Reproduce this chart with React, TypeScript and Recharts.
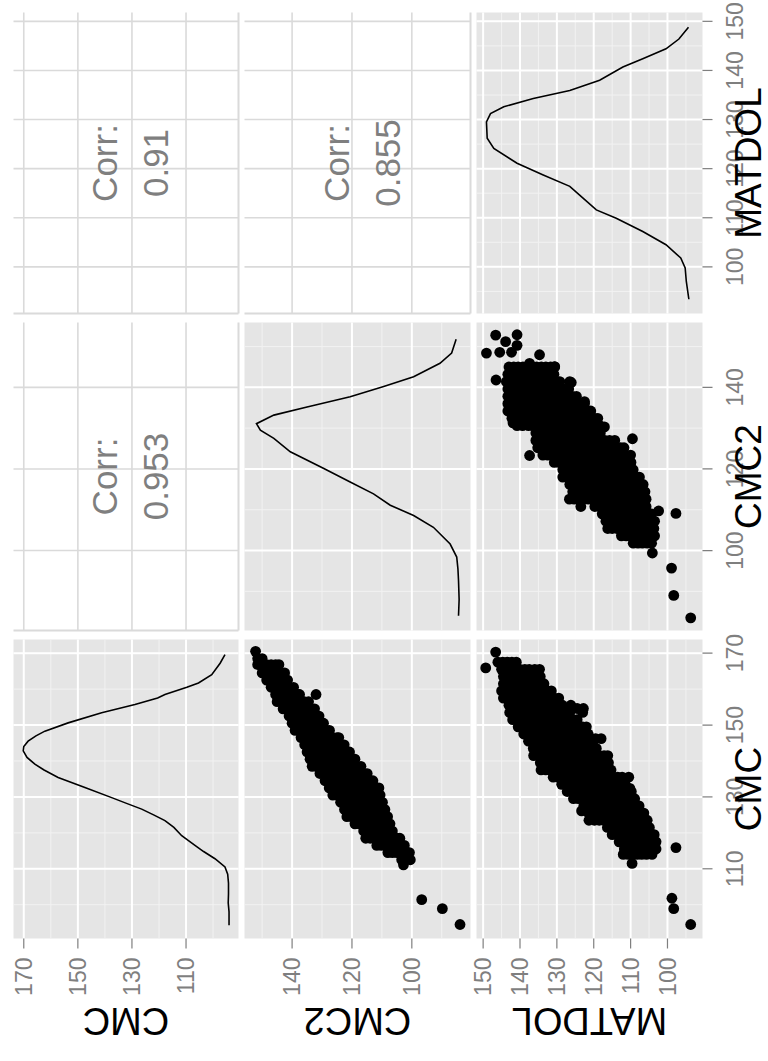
import React from 'react';
import {
  ScatterChart, Scatter, LineChart, Line, XAxis, YAxis, CartesianGrid, ReferenceLine,
} from 'recharts';

const FONT = '"Liberation Sans", Arial, Helvetica, sans-serif';

// variables of the pairs matrix
const varNames = ['CMC', 'CMC2', 'MATDOL'];
const varDomains: [number, number][] = [[90.6, 173.8], [80.4, 155.9], [90.5, 151.8]];
const majorTicks = [[110, 130, 150, 170], [100, 120, 140], [100, 110, 120, 130, 140, 150]];
const minorTicks = [[100, 120, 140, 160], [90, 110, 130, 150], [95, 105, 115, 125, 135, 145]];

// upper triangle
const corrCells = [
  { row: 0, col: 1, value: '0.953' },
  { row: 0, col: 2, value: '0.91' },
  { row: 1, col: 2, value: '0.855' },
];

// diagonal densities, rescaled to the variable range: [value, scaled density]
const cmcDensity = [
  [94.3, 94.1], [98, 94.1], [100.5, 94.4], [103, 94.3], [106, 94.3], [108.5, 94.6], [110.5, 95.6],
  [112.8, 99.3], [114.8, 103.5], [116.5, 106.7], [119.2, 111.6], [121.5, 114.5], [123.4, 117.8],
  [125, 122], [126.6, 126.4], [128.2, 132], [129.8, 137.5], [132.6, 147.4], [135.4, 157.3],
  [137.5, 162.5], [139.1, 165.9], [141, 168.8], [142.8, 170.2], [144, 170], [145.5, 168.4],
  [147, 165.5], [148.3, 162.2], [150.6, 153.6], [153.4, 141.2], [155.7, 128.9], [157.5, 120.5],
  [158.5, 117.8], [160.5, 109.7], [161.7, 105.4], [164, 100.5], [167.2, 97.4], [169.6, 95.6],
];
const cmc2Density = [
  [84, 84.4], [88, 84.2], [92.6, 84.4], [95.5, 84.6], [98.4, 85], [101.6, 87.2], [105.7, 92.8],
  [108.6, 99.4], [111.1, 107.2], [113.9, 112.8], [116.8, 120.6], [120.1, 129.4], [124.2, 140.6],
  [127.5, 146.1], [129.5, 150.6], [131.1, 151.9], [133.2, 146.1], [135.2, 135], [137.7, 120.6],
  [140.2, 109.4], [142.6, 99.4], [145.9, 90.6], [148.4, 86.7], [151.8, 85.2],
];
const matdolDensity = [
  [93.4, 94.2], [97.1, 94.9], [99.8, 95.2], [101.8, 96.4], [104.5, 100.4], [107.2, 106.7],
  [109.9, 113.9], [111.6, 119.3], [114, 122.9], [116.4, 126.5], [118.7, 133.7], [121.1, 140.8],
  [124.1, 147.1], [126.2, 148.9], [129.5, 149.1], [131.2, 148], [132.6, 144.4], [134.3, 136.4],
  [135.9, 126.5], [138, 118.4], [140.7, 112.1], [142.4, 106.7], [144.4, 100.4], [146.4, 96.9],
  [148.8, 94.3],
];

// lower triangle clouds, one row per x value: [x, y1, y2, ...]
const cmcVsCmc2 = [
  [170.5, 152.2], [168.5, 151.5, 150], [166.8, 151.5, 150, 148.5, 147, 145.5, 144.4],
  [164.5, 150, 148.5, 147, 145.5, 144, 142.5], [162.5, 148.5, 147, 145.5, 144, 142.5, 141.5],
  [160.5, 147, 145.5, 144, 142.5, 141, 139.5], [158.5, 145.5, 144, 142.5, 141, 139.5, 138, 137.5, 132],
  [156.5, 145, 143.5, 142, 140.5, 139, 137.5, 136, 134.5],
  [154.5, 143, 141.5, 140, 138.5, 137, 135.5, 134, 132.5],
  [152.5, 141, 139.5, 138, 136.5, 135, 133.5, 132, 131],
  [150.5, 140, 138.5, 137, 135.5, 134, 132.5, 131, 129.5],
  [148.5, 139, 137.5, 136, 134.5, 133, 131.5, 130, 128.5, 127.5],
  [146.5, 137, 135.5, 134, 132.5, 131, 129.5, 128, 126.5, 125, 124.4],
  [144.5, 135.8, 134.3, 132.8, 131.3, 129.8, 128.3, 126.8, 125.3, 123.8, 122.6],
  [142.5, 135, 133.5, 132, 130.5, 129, 127.5, 126, 124.5, 123, 121.5, 120.8],
  [140.5, 134, 132.5, 131, 129.5, 128, 126.5, 125, 123.5, 122, 120.5, 119],
  [138.5, 133.3, 131.8, 130.3, 128.8, 127.3, 125.8, 124.3, 122.8, 121.3, 119.8, 118.3, 117],
  [136.5, 130.7, 129.2, 127.7, 126.2, 124.7, 123.2, 121.7, 120.2, 118.7, 117.2, 115.7, 114.9],
  [134.5, 129, 127.5, 126, 124.5, 123, 121.5, 120, 118.5, 117, 115.5, 114, 113],
  [132.5, 127.6, 126.1, 124.6, 123.1, 121.6, 120.1, 118.6, 117.1, 115.6, 114.1, 112.6, 111],
  [130.5, 126.4, 124.9, 123.4, 121.9, 120.4, 118.9, 117.4, 115.9, 114.4, 112.9, 111.4, 110.6],
  [128.5, 123.8, 122.3, 120.8, 119.3, 117.8, 116.3, 114.8, 113.3, 111.8, 110.3, 109.8],
  [126.5, 122.5, 121, 119.5, 118, 116.5, 115, 113.5, 112, 110.5, 109],
  [124.5, 121.7, 120.2, 118.7, 117.2, 115.7, 114.2, 112.7, 111.2, 109.7, 108.1],
  [122.5, 119, 117.5, 116, 114.5, 113, 111.5, 110, 108.5, 107.3],
  [120.5, 116.1, 114.6, 113.1, 111.6, 110.1, 108.6, 107.1, 106.5],
  [118.5, 115.4, 113.9, 112.4, 110.9, 109.4, 107.9, 106.4, 104.9, 104],
  [116.5, 111.7, 110.2, 108.7, 107.2, 105.7, 104.2, 102.5],
  [114.5, 108, 106.5, 105, 103.5, 102, 100.8], [112.5, 103.4, 102, 100.5],
  [111.1, 102.8], [101.4, 96.7], [98.9, 89.8], [94.5, 83.9],
];
const cmcVsMatdol = [
  [170.3, 146.6], [167.5, 146, 144.7, 143.5, 142.2, 141], [165.9, 149.3],
  [165.5, 145, 143.7, 142.5, 141.2, 140, 138.7, 137.5, 136, 134.7],
  [163.5, 144.5, 143.2, 142, 140.7, 139.5, 138.2, 137, 135.7, 134.5],
  [161.5, 144.5, 143.2, 142, 140.7, 139.5, 138.2, 137, 135.7, 134.5, 133.5],
  [159.5, 145, 143.7, 142.5, 141.2, 140, 138.7, 137.5, 136.2, 135, 133.7, 132.5, 131.5],
  [157.5, 144.5, 143.2, 142, 140.7, 139.5, 138.2, 137, 135.7, 134.5, 133.2, 132, 130.7, 129.5],
  [155.5, 143, 141.7, 140.5, 139.2, 138, 136.7, 135.5, 134.2, 133, 131.7, 130.5, 129.5, 128.5, 126.2],
  [154.6, 124.5, 122.8],
  [153.5, 142.8, 141.5, 140.3, 139, 137.8, 136.5, 135.3, 134, 132.8, 131.5, 130.3, 129, 127.8, 126.5, 123],
  [151.5, 142, 140.7, 139.5, 138.2, 137, 135.7, 134.5, 133.2, 132, 130.7, 129.5, 128.2, 127, 125.7, 124.5],
  [149.5, 140.5, 139.2, 138, 136.7, 135.5, 134.2, 133, 131.7, 130.5, 129.2, 128, 126.7, 125.5, 124.2, 123, 122],
  [147.5, 139, 137.7, 136.5, 135.2, 134, 132.7, 131.5, 130.2, 129, 127.7, 126.5, 125.2, 124, 122.7, 121.5],
  [146.2, 119.5, 118],
  [145.5, 137.7, 136.5, 135.2, 134, 132.7, 131.5, 130.2, 129, 127.7, 126.5, 125.2, 124, 122.7, 121.5, 120.2],
  [143.5, 136.4, 135.1, 133.9, 132.6, 131.4, 130.1, 128.9, 127.6, 126.4, 125.1, 123.9, 122.6, 121.4, 120.1, 119.3],
  [141.5, 136.3, 134.8, 133.5, 132.2, 131, 129.7, 128.5, 127.2, 126, 124.7, 123.5, 122.2, 121, 119.7, 118.5, 117.2, 116.2],
  [139.5, 134.5, 133.2, 132, 130.7, 129.5, 128.2, 127, 125.7, 124.5, 123.2, 122, 120.7, 119.5, 118.2, 117, 116],
  [137.5, 134.3, 133, 131.8, 130.5, 129.3, 128, 126.8, 125.5, 124.3, 123, 121.8, 120.5, 119.3, 118, 116.8, 115.3],
  [135.5, 131, 129.7, 128.5, 127.2, 126, 124.7, 123.5, 122.2, 121, 119.7, 118.5, 117.2, 116, 114.7, 113.5, 112.3, 110.5],
  [133.5, 128.7, 127.5, 126.2, 125, 123.7, 122.5, 121.2, 120, 118.7, 117.5, 116.2, 115, 113.7, 112.5, 111.5],
  [132.4, 110.2],
  [131.5, 127.2, 126, 124.7, 123.5, 122.2, 121, 119.7, 118.5, 117.2, 116, 114.7, 113.5, 112.2, 111, 109.8],
  [129.5, 125.5, 124.2, 123, 121.7, 120.5, 119.2, 118, 116.7, 115.5, 114.2, 113, 111.7, 110.5, 109.2, 108.9],
  [127.5, 122.7, 121.5, 120.2, 119, 117.7, 116.5, 115.2, 114, 112.7, 111.5, 110.2, 109, 107.7],
  [126.1, 123.3],
  [125.5, 121.4, 120.2, 118.9, 117.7, 116.4, 115.2, 113.9, 112.7, 111.4, 110.2, 108.9, 107.7, 106.4],
  [123.5, 121.3, 119.8, 118.5, 117.3, 116, 114.8, 113.5, 112.3, 111, 109.8, 108.5, 107.3, 105.5],
  [121.5, 116.3, 115, 113.8, 112.5, 111.3, 110, 108.8, 107.5, 106.3, 104.9],
  [119.5, 115, 113.7, 112.5, 111.2, 110, 108.7, 107.5, 106.2, 105, 103.6],
  [117.5, 113.1, 111.8, 110.6, 109.3, 108.1, 106.8, 105.6, 104.3, 103.1],
  [115.9, 97.7], [115.5, 111.7, 110.4, 109.2, 107.9, 106.7, 105.4, 104.2, 103.1],
  [114, 112, 110.7, 109.5, 108.2, 107, 105.7, 104.2], [111.5, 109.6],
  [101.8, 98.8], [98.9, 98.3], [94.5, 93.7],
];
const cmc2VsMatdol = [
  [152.8, 146.6], [152.9, 140.8], [151.2, 143.9], [150.3, 140.8], [148.4, 149.1],
  [148.6, 145.5, 142.3], [148, 134.7], [145.9, 137.4], [145.1, 130.6], [141.8, 146.5], [141.2, 126.1],
  [145, 143, 141.7, 140.5, 139.2, 138, 136.7, 135.5, 134.2, 133, 131.7, 130.6],
  [143.2, 143.3, 142, 140.8, 139.5, 138.3, 137, 135.8, 134.5, 133.3, 132, 130.8],
  [141.4, 143.7, 142.4, 141.2, 139.9, 138.7, 137.4, 136.2, 134.9, 133.7, 132.4, 131.2, 129.9, 129.2, 126.5],
  [139.6, 143.3, 142, 140.8, 139.5, 138.3, 137, 135.8, 134.5, 133.3, 132, 130.8, 129.5, 128.3, 127, 126.8],
  [137.8, 143.3, 142, 140.8, 139.5, 138.3, 137, 135.8, 134.5, 133.3, 132, 130.8, 129.5, 128.3, 127, 125.8, 124.7],
  [136.5, 122.5],
  [136, 143.3, 142, 140.8, 139.5, 138.3, 137, 135.8, 134.5, 133.3, 132, 130.8, 129.5, 128.3, 127, 125.8, 124.5, 123.3, 122.5],
  [134.2, 143.3, 142, 140.8, 139.5, 138.3, 137, 135.8, 134.5, 133.3, 132, 130.8, 129.5, 128.3, 127, 125.8, 124.5, 123.3, 122, 120.8],
  [132.4, 142.2, 141, 139.7, 138.5, 137.2, 136, 134.7, 133.5, 132.2, 131, 129.7, 128.5, 127.2, 126, 124.7, 123.5, 122.2, 121, 119.7, 118.9],
  [131.3, 141.9], [130.3, 117.1],
  [130.6, 140.8, 139.3, 137.7, 136.5, 135.2, 134, 132.7, 131.5, 130.2, 129, 127.7, 126.5, 125.2, 124, 122.7, 121.5, 120.2, 119, 118.3],
  [128.8, 135.7, 134.5, 133.2, 132, 130.7, 129.5, 128.2, 127, 125.7, 124.5, 123.2, 122, 120.7, 119.5, 118.2],
  [127.4, 109.5],
  [127, 135.7, 134.5, 133.2, 132, 130.7, 129.5, 128.2, 127, 125.7, 124.5, 123.2, 122, 120.7, 119.5, 118.2, 117, 115.7, 114.3],
  [125.2, 135.2, 134, 132.7, 131.5, 130.2, 129, 127.7, 126.5, 125.2, 124, 122.7, 121.5, 120.2, 119, 117.7, 116.5, 115.2, 114, 112.7, 111.8],
  [123.3, 137.4],
  [123.4, 133.8, 132.5, 131.3, 130, 128.8, 127.5, 126.3, 125, 123.8, 122.5, 121.3, 120, 118.8, 117.5, 116.3, 115, 113.8, 112.5, 111.3, 110],
  [121.6, 130.7, 129.5, 128.2, 127, 125.7, 124.5, 123.2, 122, 120.7, 119.5, 118.2, 117, 115.7, 114.5, 113.2, 112, 110.7, 109.9],
  [119.8, 128.4, 127.2, 125.9, 124.7, 123.4, 122.2, 120.9, 119.7, 118.4, 117.2, 115.9, 114.7, 113.4, 112.2, 110.9, 109.3],
  [118, 128.4, 127.2, 125.9, 124.7, 123.4, 122.2, 120.9, 119.7, 118.4, 117.2, 115.9, 114.7, 113.4, 112.2, 110.9, 109.7, 108.4, 107.6],
  [116.2, 126.5, 125.2, 124, 122.7, 121.5, 120.2, 119, 117.7, 116.5, 115.2, 114, 112.7, 111.5, 110.2, 109, 107.7, 106.6],
  [114.4, 125.7, 124.5, 123.2, 122, 120.7, 119.5, 118.2, 117, 115.7, 114.5, 113.2, 112, 110.7, 109.5, 108.2, 107, 106.1],
  [112.6, 126.6, 125.3, 124, 122.8, 121.5, 120.3, 119, 117.8, 116.5, 115.3, 114, 112.8, 111.5, 110.3, 109, 107.8, 106.5, 105.8],
  [110.8, 123.5, 119.7, 118.5, 117.2, 116, 114.7, 113.5, 112.2, 111, 109.7, 108.5, 107.2, 105.8],
  [109.7, 102.4], [109.1, 97.7],
  [109, 117.7, 116.5, 115.2, 114, 112.7, 111.5, 110.2, 109, 107.7, 106.5, 105.2, 104.3],
  [107.2, 116.7, 115.5, 114.2, 113, 111.7, 110.5, 109.2, 108, 106.7, 105.5, 104.2, 103.5],
  [105.4, 116.2, 115, 113.7, 112.5, 111.2, 110, 108.7, 107.5, 106.2, 105, 103.7],
  [103.6, 112.5, 111.2, 110, 108.7, 107.5, 106.2, 105, 103.5],
  [101.8, 109.3, 108, 106.8, 105.5, 104.3],
  [99.4, 104.1], [95.7, 98.9], [89, 98.3], [83.5, 93.7],
];

const toPoints = (cols: number[][]) => cols.flatMap(([x, ...ys]) => ys.map((y) => ({ x, y })));
const toLine = (pairs: number[][]) => pairs.map(([x, y]) => ({ x, y }));

const densities = [toLine(cmcDensity), toLine(cmc2Density), toLine(matdolDensity)];
const clouds: Record<string, { x: number; y: number }[]> = {
  '1-0': toPoints(cmcVsCmc2),
  '2-0': toPoints(cmcVsMatdol),
  '2-1': toPoints(cmc2VsMatdol),
};

// layout of the unrotated matrix (1061 x 768), turned a quarter left afterwards
const COL_X: [number, number][] = [[123, 422], [431, 739], [748, 1049]];
const ROW_Y: [number, number][] = [[13, 238], [244, 470], [476, 702]];
const Y_AXIS_W = 100;
const X_AXIS_H = 50;
const PAD = 30; // room so edge tick labels are not cut
const GREY = '#7f7f7f';

const Dot = (props: any) => <circle cx={props.cx} cy={props.cy} r={5.4} fill="#000" />;

const PanelChart = ({ row, col }: { row: number; col: number }) => {
  const showY = col === 0;
  const showX = row === 2;
  const width = COL_X[col][1] - COL_X[col][0] + (showY ? Y_AXIS_W : 0) + 2 * PAD;
  const height = ROW_Y[row][1] - ROW_Y[row][0] + (showX ? X_AXIS_H : 0) + 2 * PAD;
  const kind = row === col ? 'density' : row > col ? 'scatter' : 'corr';

  const axes = [
    <XAxis key="x" type="number" dataKey="x" domain={varDomains[col]} ticks={majorTicks[col]}
      allowDataOverflow hide={!showX} height={X_AXIS_H} interval={0} axisLine={false}
      tickSize={10} tickMargin={14} tickLine={{ stroke: GREY, strokeWidth: 1.2 }}
      tick={{ fill: GREY, fontSize: 23, fontFamily: FONT }} />,
    <YAxis key="y" type="number" dataKey="y" domain={varDomains[row]} ticks={majorTicks[row]}
      allowDataOverflow hide={!showY} width={Y_AXIS_W} interval={0} axisLine={false}
      tickSize={10} tickMargin={9} tickLine={{ stroke: GREY, strokeWidth: 1.2 }}
      tick={{ fill: GREY, fontSize: 23, fontFamily: FONT }} />,
  ];
  const greyGrid = [
    <CartesianGrid key="minor" fill="#e5e5e5" stroke="#f2f2f2" strokeWidth={1}
      verticalValues={minorTicks[col]} horizontalValues={minorTicks[row]} />,
    <CartesianGrid key="major" stroke="#ffffff" strokeWidth={2}
      verticalValues={majorTicks[col]} horizontalValues={majorTicks[row]} />,
  ];
  const margin = { top: PAD, right: PAD, bottom: PAD, left: PAD };
  const style = {
    position: 'absolute' as const,
    left: COL_X[col][0] - (showY ? Y_AXIS_W : 0) - PAD,
    top: ROW_Y[row][0] - PAD,
  };

  if (kind === 'density') {
    return (
      <div style={style}>
        <LineChart width={width} height={height} margin={margin} data={densities[col]}>
          {greyGrid}
          {axes}
          <Line type="linear" dataKey="y" stroke="#000" strokeWidth={1.6} dot={false}
            isAnimationActive={false} />
        </LineChart>
      </div>
    );
  }
  if (kind === 'scatter') {
    return (
      <div style={style}>
        <ScatterChart width={width} height={height} margin={margin}>
          {greyGrid}
          {axes}
          <Scatter data={clouds[`${row}-${col}`]} shape={Dot} isAnimationActive={false} />
        </ScatterChart>
      </div>
    );
  }
  return (
    <div style={style}>
      <ScatterChart width={width} height={height} margin={margin}>
        <CartesianGrid fill="#ffffff" stroke="#dadada" strokeWidth={1.6}
          verticalValues={majorTicks[col]} horizontalValues={majorTicks[row]} />
        {axes}
        <ReferenceLine x={varDomains[col][0]} stroke="#dadada" strokeWidth={2} />
        <ReferenceLine y={varDomains[row][0]} stroke="#dadada" strokeWidth={2} />
        <Scatter data={[]} isAnimationActive={false} />
      </ScatterChart>
    </div>
  );
};

const center = (r: [number, number]) => (r[0] + r[1]) / 2;

const App = () => {
  const cells: { row: number; col: number }[] = [];
  [0, 1, 2].forEach((row) => [0, 1, 2].forEach((col) => cells.push({ row, col })));

  return (
    <div style={{ position: 'absolute', left: 0, top: 0, width: 768, height: 1061, overflow: 'hidden', background: '#fff' }}>
      <div style={{
        position: 'absolute', left: (768 - 1061) / 2, top: (1061 - 768) / 2, width: 1061, height: 768,
        transform: 'rotate(-90deg)', fontFamily: FONT,
      }}>
        {cells.map((c) => <PanelChart key={`${c.row}-${c.col}`} row={c.row} col={c.col} />)}
        <svg width={1061} height={768} style={{ position: 'absolute', left: 0, top: 0, pointerEvents: 'none' }}>
          {corrCells.map((c) => {
            const cx = center(COL_X[c.col]);
            const cy = center(ROW_Y[c.row]);
            return (
              <g key={c.value} fill={GREY} fontSize={35} fontFamily={FONT} textAnchor="middle">
                <text x={cx} y={cy - 9}>Corr:</text>
                <text x={cx} y={cy + 42}>{c.value}</text>
              </g>
            );
          })}
          {varNames.map((name, i) => (
            <text key={`y-${name}`} transform={`translate(54, ${center(ROW_Y[i])}) rotate(-90)`}
              textAnchor="middle" fontSize={38} fontFamily={FONT} fill="#000">{name}</text>
          ))}
          {varNames.map((name, i) => (
            <text key={`x-${name}`} x={center(COL_X[i])} y={760} textAnchor="middle"
              fontSize={37} fontFamily={FONT} fill="#000">{name}</text>
          ))}
        </svg>
      </div>
    </div>
  );
};

export default App;
